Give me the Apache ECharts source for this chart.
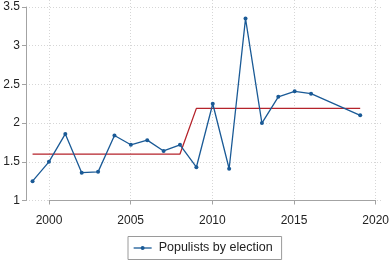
<!DOCTYPE html>
<html>
<head>
<meta charset="utf-8">
<script src="https://cdn.jsdelivr.net/npm/echarts@6.0.0/dist/echarts.min.js"></script>
<style>
  html, body { margin: 0; padding: 0; background: #ffffff; }
  #chart { width: 392px; height: 262px; }
</style>
</head>
<body>
<div id="chart"></div>
<script>
// 每次选举的民粹政党数值，以及前后两段的平均线
const 选举年份 = [1999, 2000, 2001, 2002, 2003, 2004, 2005, 2006, 2007, 2008,
  2009, 2010, 2011, 2012, 2013, 2014, 2015, 2016, 2019]
const 选举数值 = [1.25, 1.50, 1.86, 1.36, 1.37, 1.84, 1.72, 1.78, 1.64, 1.72,
  1.43, 2.25, 1.41, 3.35, 2.00, 2.34, 2.41, 2.38, 2.10]
const 分段年份 = [1999, 2008, 2009, 2019]
const 分段数值 = [1.60, 1.60, 2.19, 2.19]
const 横轴刻度 = [2000, 2005, 2010, 2015, 2020]
const 纵轴刻度 = [1, 1.5, 2, 2.5, 3, 3.5]
const 图例名 = 'Populists by election'

const 蓝色 = '#1a5a96'
const 红色 = '#b5232b'
const 轴线颜色 = '#a3a3a3'
const 网格颜色 = '#d6d6d6'
const 文字颜色 = '#222222'
const 字体 = '"Liberation Sans", Arial, sans-serif'

function 配对(横, 纵) {
  return 横.map((x, i) => [x, 纵[i]])
}

const 图表 = echarts.init(document.getElementById('chart'), null, { renderer: 'canvas' })

图表.setOption({
  animation: false,
  textStyle: { fontFamily: 字体, color: 文字颜色 },
  grid: [
    { left: 26, right: 10.5, top: 7, height: 193.5 },
    { left: 49, width: 327.6, top: 0, height: 200.5 },
  ],
  legend: {
    data: [图例名],
    left: 128,
    top: 236.5,
    padding: [4, 9, 4, 5],
    itemWidth: 18,
    itemHeight: 5,
    itemGap: 8,
    borderColor: '#9a9a9a',
    borderWidth: 1,
    borderRadius: 0,
    itemStyle: { opacity: 1 },
    lineStyle: { width: 1.3 },
    textStyle: { fontFamily: 字体, fontSize: 12.5, color: 文字颜色, padding: [0, 0, 0, 2], lineHeight: 15 },
  },
  xAxis: [
    {
      gridIndex: 0,
      type: 'value',
      min: 1998.6,
      max: 2020.3,
      show: false,
      splitLine: { show: false },
    },
    {
      gridIndex: 1,
      type: 'value',
      min: 横轴刻度[0],
      max: 横轴刻度[横轴刻度.length - 1],
      interval: 5,
      offset: 6,
      axisLine: { show: true, lineStyle: { color: 轴线颜色, width: 1 } },
      axisTick: { show: true, length: 4, lineStyle: { color: 轴线颜色 } },
      axisLabel: {
        fontSize: 12,
        color: 文字颜色,
        margin: 8,
        fontFamily: 字体,
        showMinLabel: true,
        showMaxLabel: true,
        formatter: (值) => String(值),
      },
      splitLine: { show: true, lineStyle: { color: 网格颜色, type: [1, 2], width: 1 } },
    },
  ],
  yAxis: [
    {
      gridIndex: 0,
      type: 'value',
      min: 纵轴刻度[0],
      max: 纵轴刻度[纵轴刻度.length - 1],
      interval: 0.5,
      axisLine: { show: true, lineStyle: { color: 轴线颜色, width: 1 } },
      axisTick: { show: true, length: 4, lineStyle: { color: 轴线颜色 } },
      axisLabel: {
        fontSize: 12,
        color: 文字颜色,
        margin: 6,
        fontFamily: 字体,
        showMinLabel: true,
        showMaxLabel: true,
        formatter: (值) => String(值),
      },
      splitLine: { show: true, lineStyle: { color: 网格颜色, type: [1, 2], width: 1 } },
    },
    {
      gridIndex: 1,
      type: 'value',
      show: false,
      splitLine: { show: false },
    },
  ],
  series: [
    {
      name: 'period mean',
      type: 'line',
      xAxisIndex: 0,
      yAxisIndex: 0,
      data: 配对(分段年份, 分段数值),
      symbol: 'none',
      lineStyle: { color: 红色, width: 1.3 },
      z: 2,
    },
    {
      name: 图例名,
      type: 'line',
      xAxisIndex: 0,
      yAxisIndex: 0,
      data: 配对(选举年份, 选举数值),
      symbol: 'circle',
      symbolSize: 4,
      showSymbol: true,
      itemStyle: { color: 蓝色 },
      lineStyle: { color: 蓝色, width: 1.3 },
      z: 3,
    },
  ],
})
</script>
</body>
</html>
